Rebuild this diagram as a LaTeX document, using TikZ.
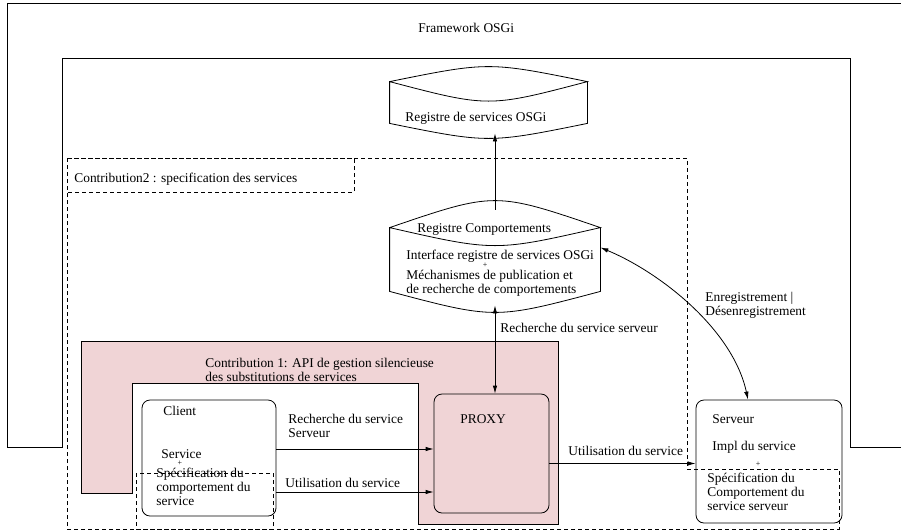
\documentclass[tikz,border=0pt]{standalone}
\usepackage{fontspec}
\setmainfont{Liberation Serif}
\usetikzlibrary{arrows.meta,positioning}
\definecolor{contribpink}{RGB}{240,212,214}
\tikzset{box/.style={draw,rounded corners=8pt,inner sep=0pt},
         store/.style={rectangle,draw=none,inner sep=0pt},
         txt/.style={anchor=base west,inner sep=0pt,align=left,font=\fontsize{13.4}{14}\selectfont},
         plus/.style={inner sep=0pt,font=\fontsize{8}{8}\selectfont},
         zone/.style={dash pattern=on 4pt off 3pt}
}

\begin{document}
\begin{tikzpicture}[x=1pt,y=-1pt,line width=0.8pt,
>={Latex[length=8pt,width=4.5pt]}]
\useasboundingbox (0,0) rectangle (901,531);

\draw (62,447) -- (7,447) -- (7,3) -- (903,3) -- (903,447) -- (850,447) -- (850,58) -- (62,58) -- cycle;
\node[txt] (fw) at (418,32) {Framework OSGi};

% contribution 1
\draw[fill=contribpink] (81,341) -- (558,341) -- (558,524) -- (418,524) -- (418,383) -- (132,383) -- (132,493) -- (81,493) -- cycle;
\node[txt] (c1) at (205,381) {Contribution 1: API de gestion silencieuse\\des substitutions de services};

% registres
\node[store,minimum width=197pt,minimum height=61pt] (regosgi) at (488.5,102.5) {};
\draw ([yshift=-10pt]regosgi.north west) .. controls ([yshift=10pt]regosgi.north) .. ([yshift=-10pt]regosgi.north east)
  .. controls ([yshift=-36pt]regosgi.north) .. ([yshift=-10pt]regosgi.north west)
  -- ([yshift=10pt]regosgi.south west) .. controls ([yshift=-10pt]regosgi.south) .. ([yshift=10pt]regosgi.south east)
  -- ([yshift=-10pt]regosgi.north east);
\node[txt] (osgilbl) at (405,121) {Registre de services OSGi};

\node[store,minimum width=210pt,minimum height=95pt] (regcomp) at (495,257.5) {};
\draw ([yshift=-18pt]regcomp.north west) .. controls ([yshift=18pt]regcomp.north) .. ([yshift=-18pt]regcomp.north east)
  .. controls ([yshift=-42pt]regcomp.north) .. ([yshift=-18pt]regcomp.north west)
  -- ([yshift=14pt]regcomp.south west) .. controls ([yshift=-14pt]regcomp.south) .. ([yshift=14pt]regcomp.south east)
  -- ([yshift=-18pt]regcomp.north east);
\node[txt] (complbl) at (417,232) {Registre Comportements};
\node[txt] (ifacelbl) at (406,259) {Interface registre de services OSGi};
\node[plus] (compplus) at (485,265.5) {+};
\node[txt] (mechlbl) at (406,293) {Méchanismes de publication et\\de recherche de comportements};

% boites
\node[box,minimum width=134pt,minimum height=116pt] (client) at (209,458) {};
\node[txt] (clientlbl) at (163,415) {Client};
\node[txt] (servlbl) at (161,458) {Service};
\node[plus] (clientplus) at (180,463.5) {+};
\node[txt] (cspeclbl) at (156,505) {Spécification du\\comportement du\\service};

\node[box,fill=contribpink,minimum width=115pt,minimum height=119pt] (proxy) at (491.5,453.5) {};
\node[txt] (proxylbl) at (460,423) {PROXY};

\node[box,minimum width=146pt,minimum height=123pt] (serveur) at (769,461.5) {};
\node[txt] (serveurlbl) at (712,423) {Serveur};
\node[txt] (impllbl) at (712,450) {Impl du service};
\node[plus] (serveurplus) at (758,464.5) {+};
\node[txt] (sspeclbl) at (707,510) {Spécification du\\Comportement du\\service serveur};

% contribution 2
\draw[zone] (67,158) -- (687,158) -- (687,469) -- (839,469) -- (839,529) -- (67,529) -- cycle;
\draw[zone] (67,158) rectangle (354,192);
\node[txt] (c2) at (74,182) {Contribution2 : specification des services};
\draw[zone] (136,473) rectangle (273,529);

\draw[->] (regcomp.north) -- (regcomp.north |- regosgi.south);
\draw[<->] (regcomp.south) -- (regcomp.south |- proxy.north);
\draw[->] ([yshift=9pt]client.east) -- ([yshift=9pt]client.east -| proxy.west);
\draw[->] ([yshift=-34pt]client.east) -- ([yshift=-34pt]client.east -| proxy.west);
\draw[->] ([yshift=-10pt]proxy.east) -- ([yshift=-10pt]proxy.east -| serveur.west);
\draw[<->] ([yshift=10pt]regcomp.east) .. controls +(60,25) and +(-15,-70) .. ([xshift=-21pt]serveur.north);

\node[txt] (look1) at (288,437) {Recherche du service\\Serveur};
\node[txt] (use1) at (285,487) {Utilisation du service};
\node[txt] (look2) at (500,332) {Recherche du service serveur};
\node[txt] (use2) at (568,455) {Utilisation du service};
\node[txt] (reglbl) at (705,315) {Enregistrement |\\Désenregistrement};
\end{tikzpicture}
\end{document}
